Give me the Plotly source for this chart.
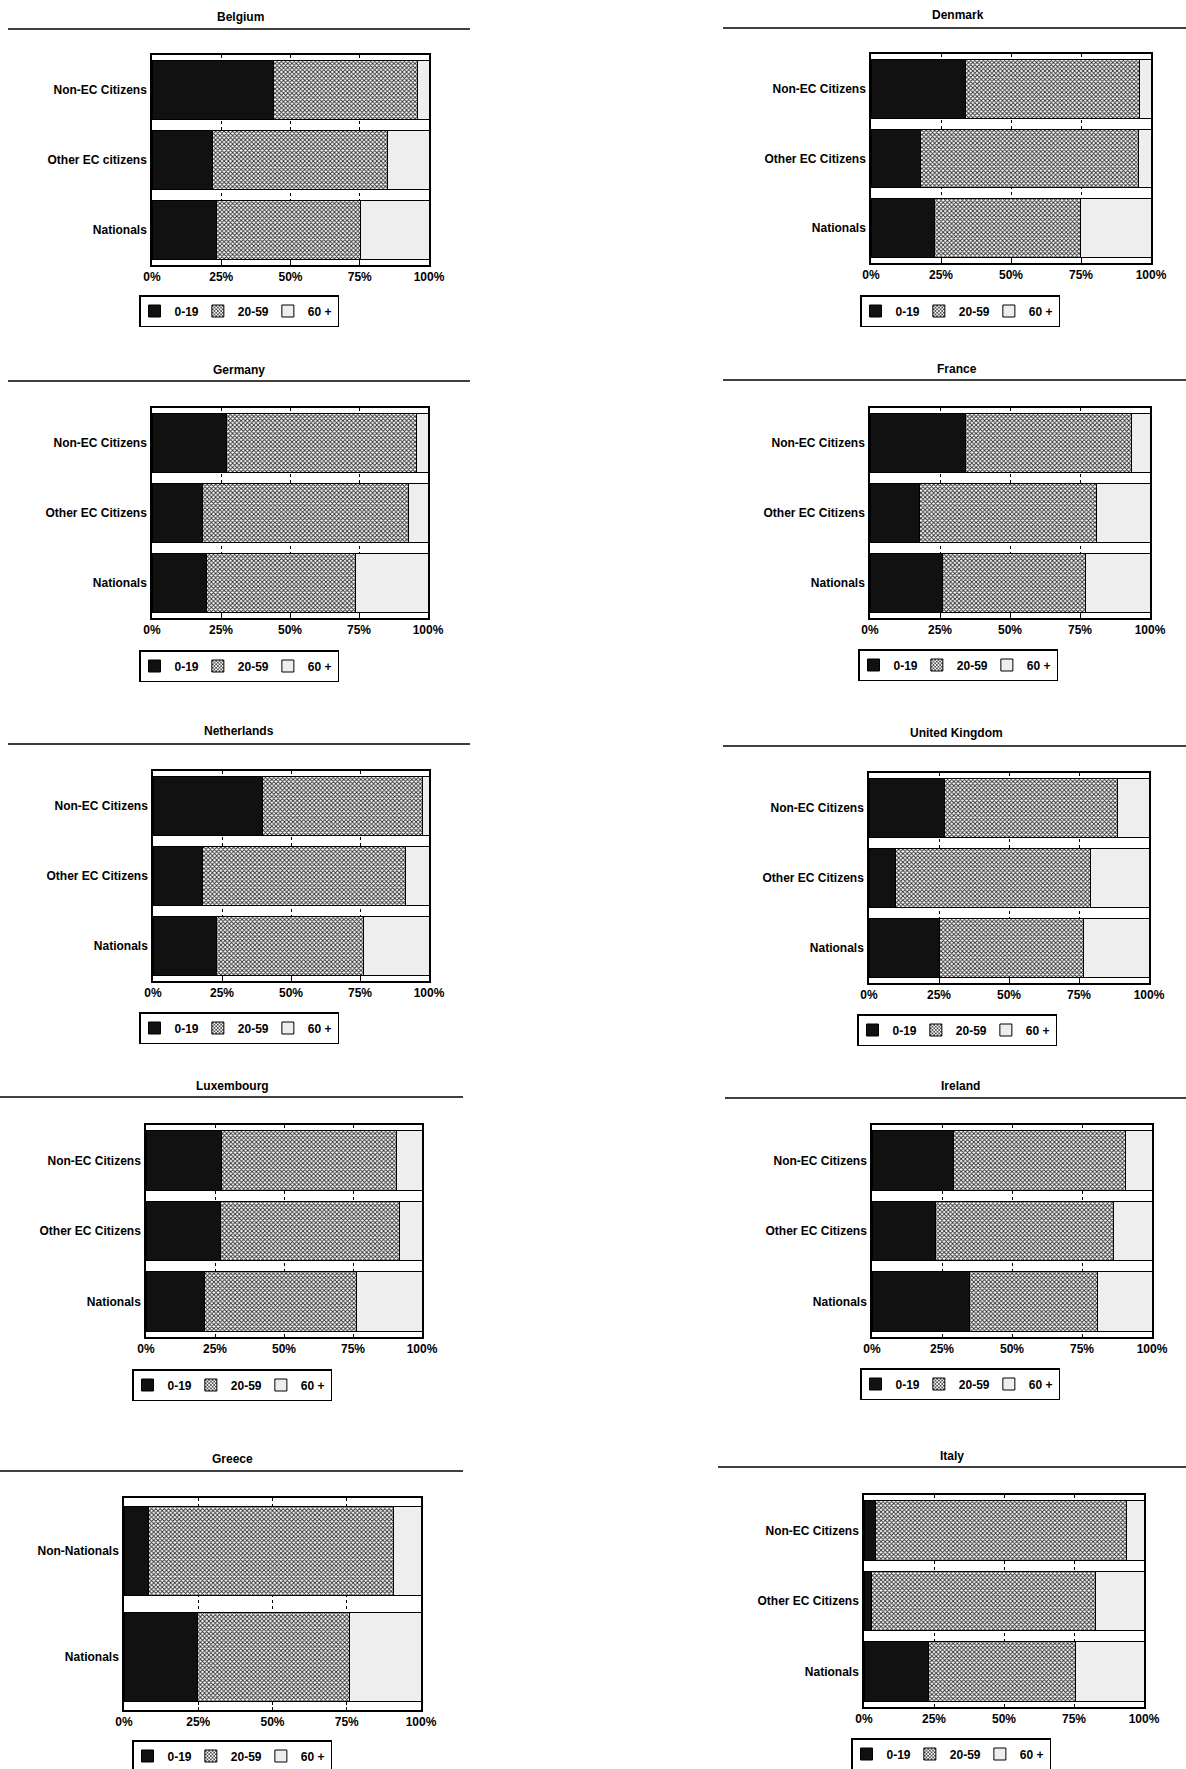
import plotly.graph_objects as go

W, H = 1186, 1769

# ---------------- data (percent of population by age group) ----------------
age_groups = ["0-19", "20-59", "60 +"]

groups_belgium = ["Non-EC Citizens", "Other EC citizens", "Nationals"]
groups_std = ["Non-EC Citizens", "Other EC Citizens", "Nationals"]
groups_greece = ["Non-Nationals", "Nationals"]

belgium_0_19 = [43.7, 21.7, 23.4]
belgium_20_59 = [52.2, 63.3, 52.0]
belgium_60 = [4.1, 15.0, 24.6]

denmark_0_19 = [33.8, 17.7, 22.5]
denmark_20_59 = [62.0, 77.7, 52.4]
denmark_60 = [4.2, 4.6, 25.1]

germany_0_19 = [27.1, 18.2, 19.9]
germany_20_59 = [68.7, 74.6, 54.0]
germany_60 = [4.2, 7.2, 26.1]

france_0_19 = [34.2, 17.6, 26.0]
france_20_59 = [59.3, 63.4, 51.1]
france_60 = [6.5, 19.0, 22.9]

netherlands_0_19 = [39.6, 18.0, 22.9]
netherlands_20_59 = [57.9, 73.4, 53.2]
netherlands_60 = [2.5, 8.6, 23.9]

uk_0_19 = [27.0, 9.4, 25.2]
uk_20_59 = [61.9, 69.8, 51.5]
uk_60 = [11.1, 20.8, 23.3]

luxembourg_0_19 = [27.2, 27.1, 21.1]
luxembourg_20_59 = [63.5, 64.8, 55.2]
luxembourg_60 = [9.3, 8.1, 23.7]

ireland_0_19 = [29.2, 22.6, 34.9]
ireland_20_59 = [61.3, 63.7, 45.5]
ireland_60 = [9.5, 13.7, 19.6]

greece_0_19 = [8.4, 24.7]
greece_20_59 = [82.4, 51.1]
greece_60 = [9.2, 24.2]

italy_0_19 = [4.2, 2.7, 23.0]
italy_20_59 = [89.4, 79.8, 52.7]
italy_60 = [6.4, 17.5, 24.3]

x_tickvals = [0, 25, 50, 75, 100]
x_ticktext = ["0%", "25%", "50%", "75%", "100%"]

panels = [
    ("Belgium", groups_belgium, belgium_0_19, belgium_20_59, belgium_60),
    ("Denmark", groups_std, denmark_0_19, denmark_20_59, denmark_60),
    ("Germany", groups_std, germany_0_19, germany_20_59, germany_60),
    ("France", groups_std, france_0_19, france_20_59, france_60),
    ("Netherlands", groups_std, netherlands_0_19, netherlands_20_59, netherlands_60),
    ("United Kingdom", groups_std, uk_0_19, uk_20_59, uk_60),
    ("Luxembourg", groups_std, luxembourg_0_19, luxembourg_20_59, luxembourg_60),
    ("Ireland", groups_std, ireland_0_19, ireland_20_59, ireland_60),
    ("Greece", groups_greece, greece_0_19, greece_20_59, greece_60),
    ("Italy", groups_std, italy_0_19, italy_20_59, italy_60),
]

# ---------------- layout geometry (pixels) ----------------
# frame: x0, x1, y0(top), y1(bottom)
frames = [
    (152, 429, 55, 265), (871, 1151, 54, 263),
    (152, 428, 408, 618), (870, 1150, 408, 618),
    (153, 429, 771, 981), (869, 1149, 773, 983),
    (146, 422, 1125, 1337), (872, 1152, 1125, 1337),
    (124, 421, 1498, 1710), (864, 1144, 1495, 1707),
]
# title: center x, text y, rule y, rule x0, rule x1
titles = [
    (240, 17, 29, 8, 470), (958, 15, 28, 723, 1186),
    (239, 370, 381, 8, 470), (957, 369, 380, 723, 1186),
    (239, 731, 744, 8, 470), (957, 733, 746, 723, 1186),
    (232, 1086, 1097, 0, 463), (960, 1086, 1098, 725, 1186),
    (232, 1459, 1471, 0, 463), (952, 1456, 1467, 718, 1186),
]
# legend: center x, top y
legends = [
    (239, 295), (960, 295),
    (239, 650), (958, 649),
    (239, 1012), (957, 1014),
    (232, 1369), (960, 1368),
    (232, 1740), (951, 1738),
]

FONT = "Liberation Sans, Arial, sans-serif"
colors = ["#111111", "#ffffff", "#eeeeee"]

fig = go.Figure()
layout = dict(
    template="none",
    width=W, height=H,
    margin=dict(l=0, r=0, t=0, b=0, autoexpand=False),
    paper_bgcolor="white", plot_bgcolor="white",
    barmode="stack", bargap=0.16,
    font=dict(family=FONT, size=12, color="black"),
    annotations=[], shapes=[],
)

for i, (name, groups, a, b, c) in enumerate(panels):
    n = i + 1
    sfx = "" if n == 1 else str(n)
    lg = "legend" if n == 1 else f"legend{n}"
    x0, x1, y0, y1 = frames[i]
    for k, (vals, col) in enumerate(zip([a, b, c], colors)):
        marker = dict(color=col, line=dict(color="black", width=1))
        if k == 1:
            marker["pattern"] = dict(shape="x", size=3, solidity=0.5,
                                     fgcolor="#2a2a2a", bgcolor="#ffffff")
        fig.add_trace(go.Bar(
            orientation="h", x=vals, y=groups, name=age_groups[k],
            marker=marker, xaxis="x" + sfx, yaxis="y" + sfx,
            legend=lg, showlegend=True,
            hovertemplate="%{y}: %{x:.1f}%<extra>" + age_groups[k] + "</extra>",
        ))
    layout["xaxis" + sfx] = dict(
        domain=[x0 / W, x1 / W], anchor="y" + sfx, range=[0, 100],
        tickvals=x_tickvals, ticktext=x_ticktext,
        ticks="inside", ticklen=3, tickcolor="black",
        showline=True, linecolor="black", linewidth=1.5, mirror="ticks",
        showgrid=True, gridcolor="black", griddash="dot", gridwidth=1,
        zeroline=False, fixedrange=True, automargin=False,
        tickfont=dict(size=12, family=FONT, color="black", weight="bold"),
    )
    layout["yaxis" + sfx] = dict(
        domain=[1 - y1 / H, 1 - y0 / H], anchor="x" + sfx,
        type="category", categoryorder="array", categoryarray=groups,
        autorange="reversed",
        showline=True, linecolor="black", linewidth=1.5, mirror=True,
        ticks="", showgrid=False, zeroline=False, fixedrange=True,
        automargin=False, ticklabelstandoff=1,
        tickfont=dict(size=12, family=FONT, color="black", weight="bold"),
    )
    lx, ly = legends[i]
    layout[lg] = dict(
        orientation="h", x=lx / W, y=1 - ly / H, xanchor="center", yanchor="top",
        bordercolor="black", borderwidth=1.5, bgcolor="white",
        font=dict(size=12, family=FONT, color="black", weight="bold"),
        itemwidth=30, indentation=-6, traceorder="normal",
        itemclick=False, itemdoubleclick=False,
    )
    tx, ty, ry, rx0, rx1 = titles[i]
    layout["annotations"].append(dict(
        text=name, x=tx / W, y=1 - ty / H, xref="paper", yref="paper",
        xanchor="center", yanchor="middle", showarrow=False,
        font=dict(size=12, family=FONT, color="black", weight="bold"),
    ))
    layout["shapes"].append(dict(
        type="line", xref="paper", yref="paper",
        x0=rx0 / W, x1=rx1 / W, y0=1 - ry / H, y1=1 - ry / H,
        line=dict(color="black", width=1.5),
    ))

fig.update_layout(**layout)
fig.write_html(
    "out.html",
    config={"displayModeBar": False},
    post_script="document.body.style.margin='0';document.body.style.overflow='hidden';",
)
